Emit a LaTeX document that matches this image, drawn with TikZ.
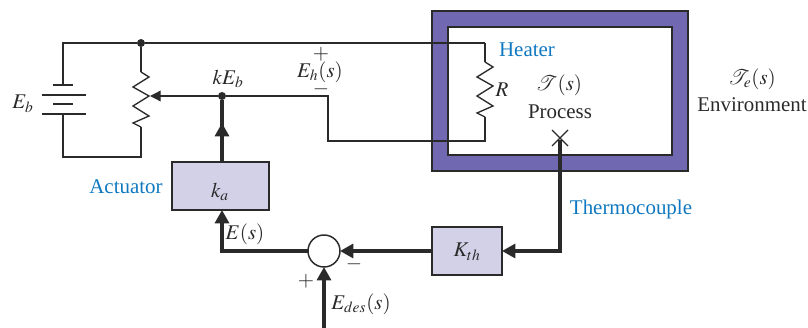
\documentclass[tikz,border=0pt]{standalone}
\usepackage{mathptmx}
\usepackage{fontspec}
\setmainfont{Liberation Serif}
\usetikzlibrary{arrows.meta}
\definecolor{framepurple}{HTML}{7068B0}
\definecolor{boxlilac}{HTML}{D2D1E8}
\definecolor{labelblue}{HTML}{0F78C0}
\definecolor{inkgray}{HTML}{2A2A2A}
\tikzset{
	wire/.style={draw=inkgray, line width=1pt},
	sigline/.style={draw=inkgray, line width=2.3pt},
	sigarrow/.style={sigline, -{Triangle[length=10pt,width=10.5pt]}},
	blockbox/.style={draw=inkgray, fill=boxlilac, line width=1.3pt, inner sep=0pt, outer sep=0pt, anchor=north west},
	junction/.style={circle, fill=inkgray, inner sep=0pt, minimum size=6pt},
	bluelabel/.style={text=labelblue, inner sep=0pt},
	txt/.style={text=inkgray, inner sep=0pt}
}
\newcommand{\zigres}[4]{% x, start y, name in, name out
	\coordinate (#3) at (#1,#2);
	\coordinate (#4) at (#1,#2+55);
	\draw[wire, line join=miter] (#3) -- (#1+8,#2+5) -- (#1-8,#2+15) -- (#1+8,#2+24) -- (#1-8,#2+34) -- (#1+8,#2+44) -- (#1-8,#2+51) -- (#4);
}
\begin{document}
\begin{tikzpicture}[x=0.75pt, y=-0.75pt, font=\fontsize{15.7}{18}\selectfont]
	\useasboundingbox (0,0) rectangle (808,328);

	% heater walls
	\draw[draw=inkgray, fill=framepurple, line width=1.8pt] (432,11) rectangle (688,171);
	\draw[draw=inkgray, fill=white, line width=1.8pt] (448,27) rectangle (672,155);

	% circuit
	\coordinate (battop) at (63,43);
	\coordinate (batbot) at (63,157);
	\node[junction] (topdot) at (141,43) {};
	\node[junction] (wiperdot) at (222,96) {};
	\coordinate (heatertop) at (485,43);
	\coordinate (heaterbot) at (485,141);
	\coordinate (retcorner) at (328,141);
	\coordinate (retup) at (328,96);
	\coordinate (wipertip) at (150,96);
	\zigres{141}{72}{potin}{potout}
	\zigres{485}{62}{rin}{rout}
	\draw[wire] (heatertop) -- (topdot) -- (potin);
	\draw[wire] (topdot) -- (battop) -- (63,85);
	\draw[wire] (63,114) -- (batbot) -- (141,157) -- (potout);
	\draw[wire] (heatertop) -- (rin);
	\draw[wire] (rout) -- (heaterbot) -- (retcorner) -- (retup) -- (wiperdot);
	\draw[wire, -{Triangle[length=8pt,width=8pt]}] (wiperdot) -- (wipertip);

	% battery plates
	\draw[wire] (53,85) -- (73,85);
	\draw[wire, line width=2pt] (42,95) -- (86,95);
	\draw[wire] (53,104) -- (73,104);
	\draw[wire, line width=2pt] (42,114) -- (86,114);

	% blocks
	\node[blockbox, minimum width=72.75pt, minimum height=36pt] (ka) at (172,162) {};
	\node[txt] at (220,192) {$k_a$};
	\node[blockbox, minimum width=52.5pt, minimum height=36pt] (kth) at (432,227) {};
	\node[txt] at (467,252) {$K_{th}$};
	\node[circle, draw=inkgray, fill=white, line width=1.1pt, minimum size=24pt, inner sep=0pt, outer sep=0pt] (sum) at (324,251) {};

	% signal lines
	\coordinate (cross) at (560,140);
	\coordinate (tccorner) at (560,251);
	\coordinate (errcorner) at (222,251);
	\coordinate (desin) at (324,328);
	\draw[sigarrow] (222,162) -- (222,123);
	\draw[sigline] (222,130) -- (wiperdot);
	\draw[sigarrow] (sum.west) -- (errcorner) -- (222,210);
	\draw[sigarrow] (kth.west) -- (sum.east);
	\draw[sigarrow] (cross) -- (tccorner) -- (kth.east);
	\draw[sigarrow] (desin) -- (sum.south);
	\draw[wire] (552,130) -- (568,146);
	\draw[wire] (568,130) -- (552,146);

	% labels
	\node[txt] (ebl) at (23,104) {$E_b$};
	\node[txt] (kebl) at (228,79) {$kE_b$};
	\node[txt] (ehl) at (320,72) {$E_h(s)$};
	\node[txt] (ehp) at (321,54) {$+$};
	\node[txt] (ehm) at (321,89) {$-$};
	\node[txt] (rl) at (502,90) {$R$};
	\node[txt] (tsl) at (559,85) {$\mathcal{T}(s)$};
	\node[txt] (procl) at (560,112) {Process};
	\node[bluelabel] (heatl) at (527,50) {Heater};
	\node[txt] (tel) at (752,79) {$\mathcal{T}_e(s)$};
	\node[txt] (envl) at (752,105) {Environment};
	\node[bluelabel] (actl) at (126,187) {Actuator};
	\node[bluelabel] (tcl) at (631,209) {Thermocouple};
	\node[txt] (esl) at (245,234) {$E(s)$};
	\node[txt] (summ) at (354,264) {$-$};
	\node[txt] (sump) at (306,281) {$+$};
	\node[txt] (edl) at (361,304) {$E_{des}(s)$};
\end{tikzpicture}
\end{document}
